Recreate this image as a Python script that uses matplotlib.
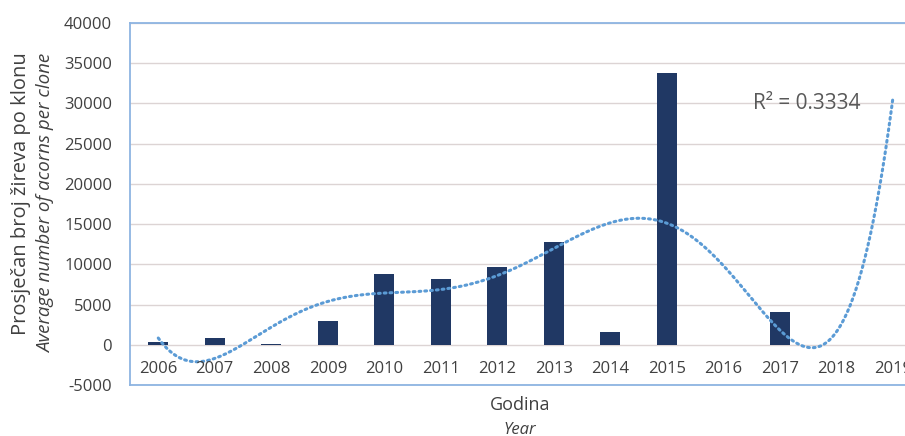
import numpy as np
import matplotlib
matplotlib.use("Agg")
import matplotlib.pyplot as plt

years = ["2006", "2007", "2008", "2009", "2010", "2011", "2012",
         "2013", "2014", "2015", "2016", "2017", "2018", "2019"]
acorns = [400, 900, 150, 3000, 8800, 8200, 9700,
          12800, 1600, 33800, 0, 4100, 0, 0]
y_ticks = [-5000, 0, 5000, 10000, 15000, 20000, 25000, 30000, 35000, 40000]
r2_label = "R² = 0.3334"

# polynomial trendline (year, value)
trend_year = [2006.0, 2006.25, 2006.5, 2006.75, 2007.0, 2007.25, 2007.5, 2007.75,
              2008.0, 2008.5, 2009.0, 2009.5, 2010.0, 2010.5, 2011.0, 2011.5,
              2012.0, 2012.5, 2013.0, 2013.5, 2014.0, 2014.5, 2015.0, 2015.5,
              2016.0, 2016.5, 2017.0, 2017.25, 2017.5, 2017.65, 2017.8, 2018.0,
              2018.25, 2018.5, 2018.75, 2019.0]
trend_val = [1100, -1300, -2100, -2350, -1600, -600, 300, 1200,
             2100, 3800, 5300, 6100, 6400, 6700, 6900, 7500,
             8700, 10200, 12000, 13700, 15000, 15600, 15100, 13300,
             9800, 6000, 2100, 500, -350, -550, -200, 1300,
             4500, 11400, 19500, 30000]

plt.rcParams['font.family'] = ['Open Sans', 'DejaVu Sans']

fig = plt.figure(figsize=(9.05, 4.36), dpi=100)
ax = fig.add_axes([130/905, 51/436, 791/905, 362/436])

idx = np.arange(len(years))
ax.bar(idx, acorns, width=0.36, color="#203864", zorder=3)

# smooth polynomial through the read trendline values (the original is a polynomial trendline)
tx = np.array(trend_year) - int(years[0])
u = (tx - 6.5) / 6.5
coef = np.polyfit(u, trend_val, 8)
xs = np.linspace(tx.min(), tx.max(), 500)
ax.plot(xs, np.polyval(coef, (xs - 6.5) / 6.5), color="#5B9BD5", lw=2.2,
        linestyle=(0, (0.6, 1.3)), dash_capstyle="round", zorder=4)

ax.set_xlim(-0.5, len(years) - 0.5)
ax.set_ylim(-5000, 40000)
ax.set_yticks(y_ticks)
ax.set_yticklabels([str(v) for v in y_ticks], fontsize=12, color="#404040")
ax.tick_params(axis="y", length=0, pad=13)
ax.set_xticks([])
for i, y in enumerate(years):
    ax.text(i, -3050, y, ha="center", va="center", fontsize=12, color="#404040", zorder=5)

ax.grid(axis="y", color="#DCD4D4", lw=1, zorder=0)
for s in ["left", "bottom", "top", "right"]:
    ax.spines[s].set_color("#8DB4E2")
    ax.spines[s].set_linewidth(1.3)

ax.text(10.53, 30000, r2_label, fontsize=15, color="#595959", va="center", ha="left")

# axis titles
fig.text(21/905, 1 - 194/436, "Prosječan broj žireva po klonu", rotation=90,
         ha="center", va="center", fontsize=14.5, color="#404040")
fig.text(46/905, 1 - 203/436, "Average number of acorns per clone", rotation=90,
         ha="center", va="center", fontsize=13.5, color="#404040", style="italic")
fig.text(520/905, 1 - 405/436, "Godina", ha="center", va="center", fontsize=13, color="#404040")
fig.text(520/905, 1 - 430/436, "Year", ha="center", va="center", fontsize=12,
         color="#404040", style="italic")

fig.savefig("out.png", dpi=100)
